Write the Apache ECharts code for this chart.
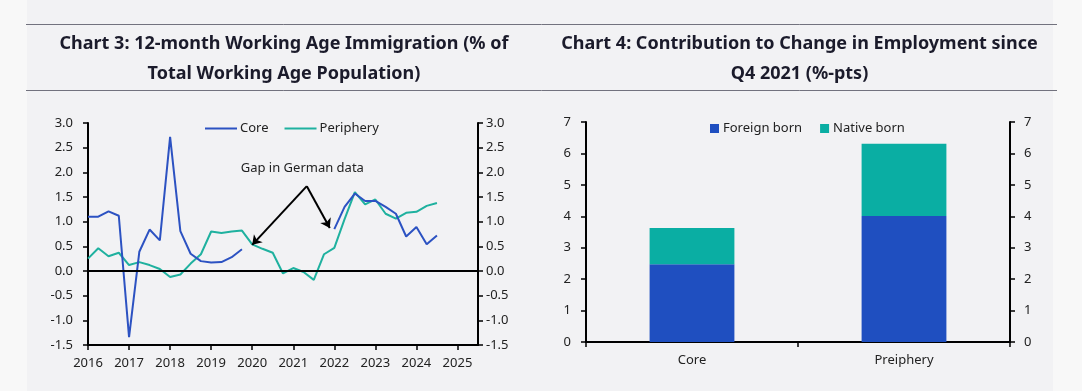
<!DOCTYPE html>
<html>
<head>
<meta charset="utf-8">
<script src="https://cdn.jsdelivr.net/npm/echarts@6/dist/echarts.min.js"></script>
<style>
  html, body { margin: 0; padding: 0; background: #f8f8f8; }
  #chart { width: 1082px; height: 391px; }
</style>
</head>
<body>
<div id="chart"></div>
<script>
// ---------- Chart 3 data ----------
const quarters = [
  '2016Q1','2016Q2','2016Q3','2016Q4',
  '2017Q1','2017Q2','2017Q3','2017Q4',
  '2018Q1','2018Q2','2018Q3','2018Q4',
  '2019Q1','2019Q2','2019Q3','2019Q4',
  '2020Q1','2020Q2','2020Q3','2020Q4',
  '2021Q1','2021Q2','2021Q3','2021Q4',
  '2022Q1','2022Q2','2022Q3','2022Q4',
  '2023Q1','2023Q2','2023Q3','2023Q4',
  '2024Q1','2024Q2','2024Q3'
];
const coreValues = [
  1.10, 1.10, 1.21, 1.12,
  -1.34, 0.39, 0.84, 0.62,
  2.72, 0.81, 0.35, 0.20,
  0.17, 0.18, 0.28, 0.44,
  null, null, null, null,
  null, null, null, null,
  0.85, 1.30, 1.57, 1.42,
  1.42, 1.30, 1.16, 0.70,
  0.89, 0.54, 0.72
];
const peripheryValues = [
  0.25, 0.46, 0.30, 0.37,
  0.12, 0.18, 0.12, 0.04,
  -0.12, -0.07, 0.15, 0.34,
  0.80, 0.77, 0.80, 0.82,
  0.54, 0.45, 0.37, -0.05,
  0.06, -0.02, -0.18, 0.34,
  0.47, 1.05, 1.60, 1.35,
  1.45, 1.16, 1.06, 1.18,
  1.20, 1.32, 1.38
];
const yearTicks = [2016, 2017, 2018, 2019, 2020, 2021, 2022, 2023, 2024, 2025];

// ---------- Chart 4 data ----------
const barCategories = ['Core', 'Preiphery'];
const foreignBorn = [2.47, 4.01];
const nativeBorn = [1.16, 2.30];

// ---------- Annotation anchors (data coordinates) ----------
const gapLabelAt = [2021.22, 2.08];
const arrowStart = [2021.33, 1.72];
const arrowEnds = [[2020.0, 0.53], [2021.89, 0.87]];

// ---------- helpers ----------
function quarterToYear(q) {
  const y = parseInt(q.slice(0, 4), 10);
  const n = parseInt(q.slice(5), 10);
  return y + (n - 1) / 4;
}
const xs = quarters.map(quarterToYear);
const coreData = xs.map((x, i) => [x, coreValues[i]]);
const periData = xs.map((x, i) => [x, peripheryValues[i]]);

const FONT = '"Noto Sans", "Open Sans", sans-serif';
const BLUE_LINE = '#2c52c2';
const TEAL_LINE = '#1fb19f';
const BLUE_BAR = '#1f4fc0';
const TEAL_BAR = '#0aaea3';
const TXT = '#222';
const AX = '#000';
const TITLE_FONT = 'bold 18px ' + FONT;

const axisLine = { show: true, onZero: false, lineStyle: { color: AX, width: 2 } };
const axisTick = { show: true, inside: false, length: 5, lineStyle: { color: AX, width: 1.5 } };

const chart = echarts.init(document.getElementById('chart'), null, { renderer: 'canvas' });

const option = {
  animation: false,
  backgroundColor: 'transparent',
  textStyle: { fontFamily: FONT },
  graphic: [
    { type: 'rect', z: -10, silent: true, shape: { x: 27, y: 0, width: 1026, height: 391 }, style: { fill: '#f2f2f4' } },
    { type: 'line', silent: true, shape: { x1: 26, y1: 24.5, x2: 1057, y2: 24.5 }, style: { stroke: '#72727e', lineWidth: 1 } },
    { type: 'line', silent: true, shape: { x1: 26, y1: 90.5, x2: 1057, y2: 90.5 }, style: { stroke: '#72727e', lineWidth: 1 } },
    { type: 'text', silent: true, style: { text: 'Chart 3: 12-month Working Age Immigration (% of', x: 284, y: 43.5, textAlign: 'center', textVerticalAlign: 'middle', font: TITLE_FONT, fill: '#1b1b2b' } },
    { type: 'text', silent: true, style: { text: 'Total Working Age Population)', x: 284, y: 73.5, textAlign: 'center', textVerticalAlign: 'middle', font: TITLE_FONT, fill: '#1b1b2b' } },
    { type: 'text', silent: true, style: { text: 'Chart 4: Contribution to Change in Employment since', x: 799.5, y: 43.5, textAlign: 'center', textVerticalAlign: 'middle', font: TITLE_FONT, fill: '#1b1b2b' } },
    { type: 'text', silent: true, style: { text: 'Q4 2021 (%-pts)', x: 799.5, y: 73.5, textAlign: 'center', textVerticalAlign: 'middle', font: TITLE_FONT, fill: '#1b1b2b' } }
  ],
  legend: [
    {
      data: ['Core', 'Periphery'],
      left: 200, top: 117,
      icon: 'rect', itemWidth: 32, itemHeight: 2, itemGap: 16,
      textStyle: { fontSize: 13, color: TXT, fontFamily: FONT, padding: [0, 0, 0, -2] }
    },
    {
      data: ['Foreign born', 'Native born'],
      left: 705, top: 117,
      icon: 'rect', itemWidth: 9, itemHeight: 9, itemGap: 18,
      textStyle: { fontSize: 13, color: TXT, fontFamily: FONT, padding: [0, 0, 0, -1] }
    }
  ],
  grid: [
    { left: 88, right: 604, top: 123, bottom: 46, containLabel: false },
    { left: 586, right: 72, top: 122, bottom: 49, containLabel: false }
  ],
  xAxis: [
    {
      type: 'value', gridIndex: 0, min: 2016, max: 2025.5, interval: 1,
      axisLine: axisLine, axisTick: axisTick, splitLine: { show: false },
      axisLabel: {
        color: TXT, fontSize: 13, margin: 12, showMaxLabel: false,
        formatter: v => (yearTicks.indexOf(v) >= 0 ? String(v) : '')
      }
    },
    {
      type: 'category', gridIndex: 1, data: barCategories,
      axisLine: axisLine, axisTick: Object.assign({}, axisTick, { alignWithLabel: false }),
      splitLine: { show: false },
      axisLabel: { color: TXT, fontSize: 13, margin: 12 }
    }
  ],
  yAxis: [
    {
      type: 'value', gridIndex: 0, position: 'left', min: -1.5, max: 3, interval: 0.5,
      axisLine: axisLine, axisTick: axisTick, splitLine: { show: false },
      axisLabel: { color: TXT, fontSize: 13, margin: 15, formatter: v => v.toFixed(1) }
    },
    {
      type: 'value', gridIndex: 0, position: 'right', min: -1.5, max: 3, interval: 0.5,
      axisLine: axisLine, axisTick: axisTick, splitLine: { show: false },
      axisLabel: { color: TXT, fontSize: 13, margin: 8, formatter: v => v.toFixed(1) }
    },
    {
      type: 'value', gridIndex: 1, position: 'left', min: 0, max: 7, interval: 1,
      axisLine: axisLine, axisTick: axisTick, splitLine: { show: false },
      axisLabel: { color: TXT, fontSize: 13, margin: 15 }
    },
    {
      type: 'value', gridIndex: 1, position: 'right', min: 0, max: 7, interval: 1,
      axisLine: axisLine, axisTick: axisTick, splitLine: { show: false },
      axisLabel: { color: TXT, fontSize: 13, margin: 14 }
    }
  ],
  series: [
    {
      name: 'Core', type: 'line', xAxisIndex: 0, yAxisIndex: 0,
      data: coreData, showSymbol: false, symbol: 'none', connectNulls: false,
      color: BLUE_LINE, lineStyle: { color: BLUE_LINE, width: 2 }, z: 3,
      markLine: {
        silent: true, symbol: ['none', 'none'], animation: false,
        label: { show: false },
        lineStyle: { color: AX, width: 2, type: 'solid' },
        data: [{ yAxis: 0 }]
      }
    },
    {
      name: 'Periphery', type: 'line', xAxisIndex: 0, yAxisIndex: 0,
      data: periData, showSymbol: false, symbol: 'none',
      color: TEAL_LINE, lineStyle: { color: TEAL_LINE, width: 2 }, z: 2,
      markLine: {
        silent: true, symbol: ['none', 'arrow'], symbolSize: 9, animation: false,
        label: { show: false },
        lineStyle: { color: AX, width: 2, type: 'solid' },
        data: arrowEnds.map(e => [{ coord: arrowStart }, { coord: e }])
      },
      markPoint: {
        silent: true, animation: false,
        data: [{
          coord: gapLabelAt, symbol: 'rect', symbolSize: 1,
          itemStyle: { color: 'rgba(0,0,0,0)' },
          label: { show: true, position: 'inside', formatter: 'Gap in German data', color: TXT, fontSize: 13, fontFamily: FONT }
        }]
      }
    },
    {
      name: 'Foreign born', type: 'bar', xAxisIndex: 1, yAxisIndex: 2, stack: 'emp',
      data: foreignBorn, barWidth: '40%', color: BLUE_BAR, itemStyle: { color: BLUE_BAR }
    },
    {
      name: 'Native born', type: 'bar', xAxisIndex: 1, yAxisIndex: 2, stack: 'emp',
      data: nativeBorn, barWidth: '40%', color: TEAL_BAR, itemStyle: { color: TEAL_BAR }
    }
  ]
};
chart.setOption(option);
</script>
</body>
</html>
